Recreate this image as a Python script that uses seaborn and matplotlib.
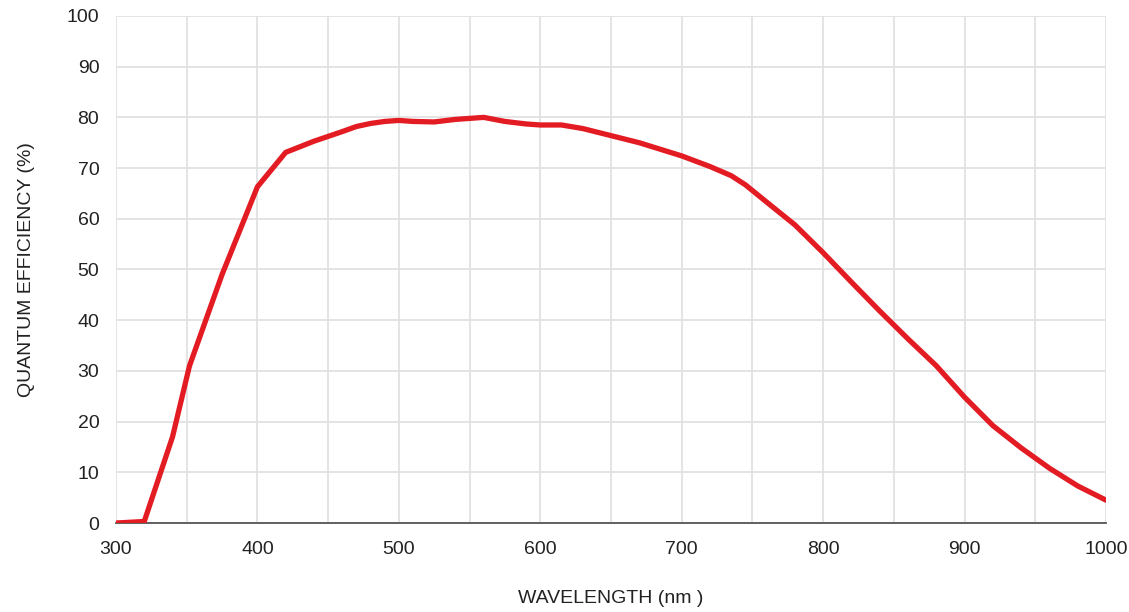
import matplotlib
matplotlib.use("Agg")
import matplotlib.pyplot as plt
import pandas as pd
import seaborn as sns
from matplotlib.ticker import MultipleLocator

# quantum efficiency curve
wavelength = [300, 320, 340, 352, 375, 400, 420, 440, 460, 470, 480, 490, 500, 510, 525, 540,
              560, 575, 590, 600, 615, 630, 650, 670, 700, 720, 735, 745, 760, 780,
              800, 820, 840, 860, 880, 900, 920, 940, 960, 980, 1000]
qe = [0.0, 0.3, 17.0, 31.0, 49.0, 66.3, 73.1, 75.3, 77.2, 78.2, 78.8, 79.2, 79.4, 79.2, 79.1, 79.6,
      80.0, 79.2, 78.7, 78.5, 78.5, 77.8, 76.4, 75.0, 72.4, 70.3, 68.5, 66.7, 63.3, 58.8,
      53.3, 47.5, 41.8, 36.3, 31.0, 24.8, 19.2, 14.8, 10.8, 7.3, 4.5]

df = pd.DataFrame({"wavelength": wavelength, "qe": qe})

sns.set_style("white")
plt.rcParams["font.family"] = ["Liberation Sans", "DejaVu Sans"]

fig = plt.figure(figsize=(11.29, 6.12), dpi=100)
ax = fig.add_axes([0.1027, 0.1454, 0.877, 0.8285])

sns.lineplot(data=df, x="wavelength", y="qe", ax=ax, color="#e31b23",
             linewidth=3.8, solid_joinstyle="round", solid_capstyle="round", zorder=3)

ax.set_xlim(300, 1000)
ax.set_ylim(0, 100)
ax.xaxis.set_major_locator(MultipleLocator(100))
ax.xaxis.set_minor_locator(MultipleLocator(50))
ax.yaxis.set_major_locator(MultipleLocator(10))

ax.grid(True, which="both", axis="x", color="#e2e2e2", linewidth=1.3)
ax.grid(True, which="major", axis="y", color="#e2e2e2", linewidth=1.3)
ax.set_axisbelow(True)

for side in ["top", "right", "left"]:
    ax.spines[side].set_visible(False)
ax.spines["bottom"].set_color("#555555")
ax.spines["bottom"].set_linewidth(1.3)

ax.tick_params(axis="x", which="both", direction="in", length=6, width=1.2,
               color="#999999", labelsize=14, labelcolor="#222222", pad=13)
ax.tick_params(axis="y", length=0, labelsize=14, labelcolor="#222222", pad=12)

ax.set_xlabel("WAVELENGTH (nm )", fontsize=14, color="#222222", labelpad=23)
ax.set_ylabel("QUANTUM EFFICIENCY (%)", fontsize=14, color="#222222", labelpad=23)

fig.savefig("out.png", dpi=100)
